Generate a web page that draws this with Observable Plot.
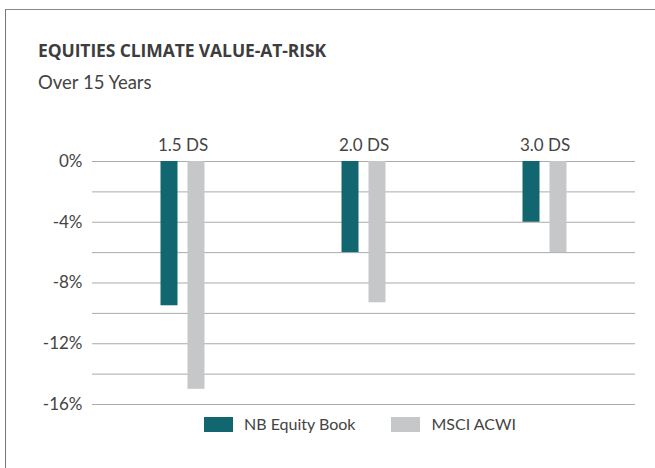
<!DOCTYPE html>
<html><head><meta charset="utf-8">
<script src="https://cdn.jsdelivr.net/npm/d3@7"></script>
<script src="https://cdn.jsdelivr.net/npm/@observablehq/plot@0.6"></script>
<style>
html,body{margin:0;padding:0;background:#fff;width:655px;height:468px;overflow:hidden;position:relative}
#frame{position:absolute;left:5px;top:9px;width:720px;height:520px;border-left:1px solid #777;border-top:1px solid #8a8a8a}
#title{position:absolute;left:38px;top:42px;font:bold 17.5px "Open Sans",sans-serif;letter-spacing:-0.1px;line-height:1;color:#3d3d3d;white-space:nowrap}
#subtitle{position:absolute;left:38px;top:73px;font:18.5px "Lato",sans-serif;line-height:1;color:#444;white-space:nowrap}
#chart{position:absolute;left:0;top:100px}
#legend{position:absolute;left:204px;top:416px;display:flex;align-items:center;font:16px "Lato",sans-serif;color:#444;line-height:1}
.sw{width:29px;height:15px;display:inline-block;margin-right:11px}
.item{display:flex;align-items:center;margin-right:36px}
</style>
</head><body>
<div id="frame"></div>
<div id="title">EQUITIES CLIMATE VALUE-AT-RISK</div>
<div id="subtitle">Over 15 Years</div>
<div id="chart"></div>
<div id="legend"></div>
<script>
const categories = ["1.5 DS", "2.0 DS", "3.0 DS"];
const series = ["NB Equity Book", "MSCI ACWI"];
const nbEquityBook = [-9.5, -6.0, -4.0];
const msciAcwi = [-15.0, -9.3, -6.0];
const yTickValues = [0, -4, -8, -12, -16];
const gridValues = [0, -2, -4, -6, -8, -10, -12, -14, -16];
const colors = ["#12666f", "#c6c7c9"];

const data = categories.flatMap((c, i) => [
  {category: c, series: series[0], value: nbEquityBook[i]},
  {category: c, series: series[1], value: msciAcwi[i]}
]);

const fontFam = '"Lato",sans-serif';

const chart = Plot.plot({
  width: 655, height: 310,
  marginLeft: 91, marginRight: 20, marginTop: 61, marginBottom: 6,
  style: {fontFamily: fontFam, fontSize: "17px", color: "#444", background: "transparent", overflow: "visible"},
  fx: {domain: categories, padding: 0, label: null},
  x: {domain: series, paddingInner: 0.37, paddingOuter: 2.54, round: false, axis: null},
  y: {domain: [-16, 0], label: null},
  color: {domain: series, range: colors},
  marks: [
    Plot.ruleY(gridValues, {stroke: "#aaa", strokeWidth: 1}),
    Plot.barY(data, {fx: "category", x: "series", y: "value", fill: "series"}),
    Plot.axisY({ticks: yTickValues, tickSize: 0, tickPadding: 10, tickFormat: d => `${d}%`, label: null, fontSize: 17, fill: "#444"}),
    Plot.axisFx({anchor: "top", tickSize: 0, tickPadding: 11, label: null, fontSize: 17, fill: "#444"})
  ]
});
document.getElementById("chart").appendChild(chart);

const legend = document.getElementById("legend");
series.forEach((s, i) => {
  const item = document.createElement("div");
  item.className = "item";
  const sw = document.createElement("span");
  sw.className = "sw";
  sw.style.background = colors[i];
  const t = document.createElement("span");
  t.textContent = s;
  item.appendChild(sw); item.appendChild(t);
  legend.appendChild(item);
});
</script>
</body></html>
